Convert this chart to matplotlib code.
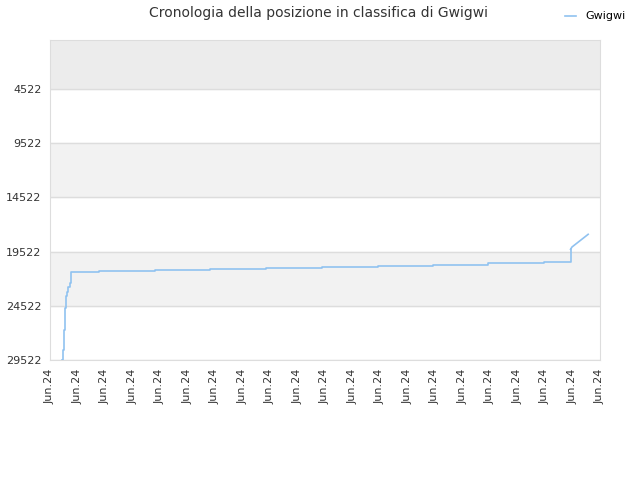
import matplotlib
matplotlib.use("Agg")
import matplotlib.pyplot as plt

# day offsets (1 tick = 1 day) and ranking position reached at that moment
days = [0.45, 0.46, 0.50, 0.53, 0.57, 0.61, 0.64, 0.72, 0.75, 1.78, 3.82, 5.82,
        7.85, 9.89, 11.93, 13.93, 15.93, 17.96, 18.93, 18.98, 19.57]
ranks = [29522, 28600, 26755, 24726, 23619, 23222, 22761, 22419, 21377, 21266,
         21174, 21082, 20990, 20897, 20805, 20713, 20600, 20482, 19310, 19100,
         17926]

tick_labels = ["Jun.24"] * 21
y_ticks = [4522, 9522, 14522, 19522, 24522, 29522]

fig = plt.figure(figsize=(6.4, 4.8), dpi=100)
ax = fig.add_axes([50 / 640, 1 - 360 / 480, 550 / 640, 320 / 480])

# background bands
ax.axhspan(0, 4522, color="#ececec", zorder=0)
for i, lo in enumerate(y_ticks[:-1]):
    if i % 2 == 1:
        ax.axhspan(lo, y_ticks[i + 1], color="#f2f2f2", zorder=0)
for t in y_ticks:
    ax.axhline(t, color="#dddddd", lw=1, zorder=1)

col = "#90c2f0"
# stepped part, then the last climb drawn straight
ax.plot(days[:19], ranks[:19], drawstyle="steps-post", color=col, lw=1.2,
        label="Gwigwi", zorder=3)
ax.plot(days[18:], ranks[18:], color=col, lw=1.2, zorder=3)

ax.set_xlim(0, 20)
ax.set_ylim(29522, 0)
ax.set_xticks(range(21))
ax.set_xticklabels(tick_labels, rotation=90, fontsize=8, color="#333333")
ax.set_yticks(y_ticks)
ax.set_yticklabels([str(t) for t in y_ticks], fontsize=8, color="#333333")
ax.tick_params(length=0, pad=6)
for s in ax.spines.values():
    s.set_color("#dddddd")

fig.text(0.497, 0.988, "Cronologia della posizione in classifica di Gwigwi",
         ha="center", va="top", fontsize=10, color="#333333")
fig.legend(loc="upper right", bbox_to_anchor=(0.993, 0.997), frameon=False,
           fontsize=8, handlelength=1.0)

fig.savefig("out.png", dpi=100)
